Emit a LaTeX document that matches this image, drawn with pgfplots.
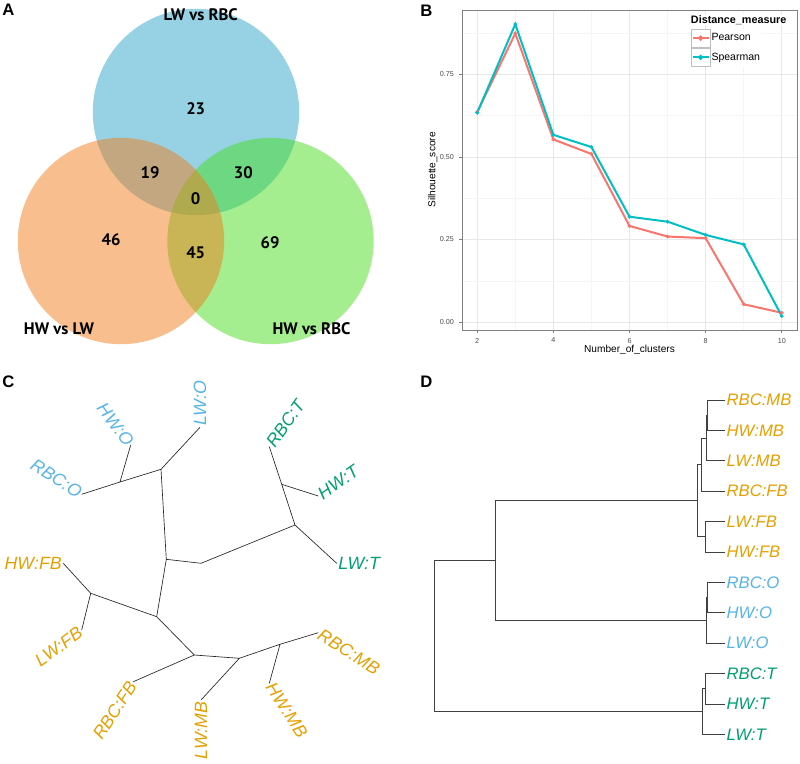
\documentclass[border=0pt]{standalone}
\usepackage{pgfplots}
\pgfplotsset{compat=1.18}
\usepackage{fontspec}
\setmainfont{Liberation Sans}
\newfontfamily\vennfont{PT Sans}
\definecolor{vblue}{HTML}{2DA5C9}
\definecolor{vorange}{HTML}{F17D1D}
\definecolor{vgreen}{HTML}{49DD21}
\definecolor{cO}{HTML}{56B4E9}
\definecolor{cT}{HTML}{009E73}
\definecolor{cF}{HTML}{E69F00}
\definecolor{pear}{HTML}{F8766D}
\definecolor{spear}{HTML}{00BFC4}
\newcommand{\vf}{\vennfont\bfseries\fontsize{12.5}{15}\selectfont}
\newcommand{\cf}{\itshape\fontsize{13.3}{16}\selectfont}
\newcommand{\df}{\itshape\fontsize{12.5}{15}\selectfont}
\newcommand{\pf}{\bfseries\fontsize{12.5}{15}\selectfont}
\pgfplotsset{canvas/.style={at={(0pt,0pt)}, anchor=south west, width=600pt, height=573pt,
  scale only axis, xmin=0, xmax=800, ymin=0, ymax=764, y dir=reverse,
  hide axis, clip=false, unbounded coords=jump}}
\begin{document}
\begin{tikzpicture}
\useasboundingbox (0,0) rectangle (600pt,573pt);
% ---------- Panel A: Venn circles (own axis, drawn first) ----------
\begin{axis}[canvas]
\addplot[only marks, mark=*, mark size=77.4pt, mark options={draw opacity=0, fill=vblue, fill opacity=0.5}] coordinates {(196,112)};
\addplot[only marks, mark=*, mark size=77.4pt, mark options={draw opacity=0, fill=vgreen, fill opacity=0.5}] coordinates {(270.5,241)};
\addplot[only marks, mark=*, mark size=77.4pt, mark options={draw opacity=0, fill=vorange, fill opacity=0.5}] coordinates {(121,241)};
\end{axis}
% ---------- canvas axis for texts of A, and panels C, D ----------
\begin{axis}[canvas]
% Panel letters
\node[anchor=base west, inner sep=0pt, font=\pf] at (axis cs:2,15) {A};
\node[anchor=base west, inner sep=0pt, font=\pf] at (axis cs:2,387) {C};
\node[anchor=base west, inner sep=0pt, font=\pf] at (axis cs:420,387) {D};
\node[font=\vf] at (axis cs:200.7,15) {LW vs RBC};
\node[font=\vf] at (axis cs:59,328.3) {HW vs LW};
\node[font=\vf] at (axis cs:311.5,328.3) {HW vs RBC};
\node[font=\vf] at (axis cs:195.7,108.3) {23};
\node[font=\vf] at (axis cs:150,172.3) {19};
\node[font=\vf] at (axis cs:243.3,172.3) {30};
\node[font=\vf] at (axis cs:195.7,198.3) {0};
\node[font=\vf] at (axis cs:111,240) {46};
\node[font=\vf] at (axis cs:195.7,252.7) {45};
\node[font=\vf] at (axis cs:270,242.7) {69};
% ---------- Panel C: unrooted tree ----------
\addplot[black!85, line width=0.5pt] coordinates {
 (81.7,494.3) (120,482) (130.7,445) (nan,nan)
 (120,482) (161,469.3) (200,427.3) (nan,nan)
 (161,469.3) (166.3,559.3) (201,563.3) (295,525) (336.7,563.3) (nan,nan)
 (295,525) (281.7,484.3) (269.3,446.7) (nan,nan)
 (281.7,484.3) (318.3,496) (nan,nan)
 (166.3,559.3) (156.7,616.7) (90.7,593.3) (63.3,563.3) (nan,nan)
 (90.7,593.3) (81.7,630) (nan,nan)
 (156.7,616.7) (194.3,655) (133.3,681.7) (nan,nan)
 (194.3,655) (239.3,658.3) (201,700) (nan,nan)
 (239.3,658.3) (280,644.3) (318.3,632.7) (nan,nan)
 (280,644.3) (269.3,683.3)
};
\node[font=\cf, text=cO, rotate=90, anchor=west, inner sep=1pt] at (axis cs:200,427.3) {LW:O};
\node[font=\cf, text=cO, rotate=-53, anchor=east, inner sep=1pt] at (axis cs:131,445) {HW:O};
\node[font=\cf, text=cO, rotate=-32, anchor=east, inner sep=1pt] at (axis cs:81.7,494.3) {RBC:O};
\node[font=\cf, text=cT, rotate=55, anchor=west, inner sep=1pt] at (axis cs:269.3,446.7) {RBC:T};
\node[font=\cf, text=cT, rotate=35, anchor=west, inner sep=1pt] at (axis cs:318.3,496) {HW:T};
\node[font=\cf, text=cT, rotate=0, anchor=west, inner sep=1pt] at (axis cs:336.7,563.3) {LW:T};
\node[font=\cf, text=cF, rotate=0, anchor=east, inner sep=1pt] at (axis cs:63.3,563.3) {HW:FB};
\node[font=\cf, text=cF, rotate=36, anchor=east, inner sep=1pt] at (axis cs:81.7,630) {LW:FB};
\node[font=\cf, text=cF, rotate=57, anchor=east, inner sep=1pt] at (axis cs:133.3,681.7) {RBC:FB};
\node[font=\cf, text=cF, rotate=90, anchor=east, inner sep=1pt] at (axis cs:201,700) {LW:MB};
\node[font=\cf, text=cF, rotate=-57, anchor=west, inner sep=1pt] at (axis cs:269.3,683.3) {HW:MB};
\node[font=\cf, text=cF, rotate=-32, anchor=west, inner sep=1pt] at (axis cs:318.3,632.7) {RBC:MB};
% ---------- Panel D: dendrogram ----------
\addplot[black!75, line width=0.6pt] coordinates {
 (725,400) (707,400) (707,430.4) (725,430.4) (nan,nan)
 (707,415.2) (706,415.2) (706,460.8) (725,460.8) (nan,nan)
 (706,438) (701.7,438) (701.7,491.2) (725,491.2) (nan,nan)
 (725,521.6) (705,521.6) (705,552) (725,552) (nan,nan)
 (701.7,464.6) (697.7,464.6) (697.7,536.8) (705,536.8) (nan,nan)
 (725,582.4) (707.3,582.4) (707.3,612.8) (725,612.8) (nan,nan)
 (707.3,597.6) (706,597.6) (706,643.2) (725,643.2) (nan,nan)
 (725,673.6) (705,673.6) (705,704) (725,704) (nan,nan)
 (705,688.8) (702.7,688.8) (702.7,734.4) (725,734.4) (nan,nan)
 (697.7,500.7) (495,500.7) (495,620.4) (706,620.4) (nan,nan)
 (495,560.55) (434.3,560.55) (434.3,711.6) (702.7,711.6)
};
\node[font=\df, text=cF, anchor=west, inner sep=1pt] at (axis cs:725,400) {RBC:MB};
\node[font=\df, text=cF, anchor=west, inner sep=1pt] at (axis cs:725,430.4) {HW:MB};
\node[font=\df, text=cF, anchor=west, inner sep=1pt] at (axis cs:725,460.8) {LW:MB};
\node[font=\df, text=cF, anchor=west, inner sep=1pt] at (axis cs:725,491.2) {RBC:FB};
\node[font=\df, text=cF, anchor=west, inner sep=1pt] at (axis cs:725,521.6) {LW:FB};
\node[font=\df, text=cF, anchor=west, inner sep=1pt] at (axis cs:725,552) {HW:FB};
\node[font=\df, text=cO, anchor=west, inner sep=1pt] at (axis cs:725,582.4) {RBC:O};
\node[font=\df, text=cO, anchor=west, inner sep=1pt] at (axis cs:725,612.8) {HW:O};
\node[font=\df, text=cO, anchor=west, inner sep=1pt] at (axis cs:725,643.2) {LW:O};
\node[font=\df, text=cT, anchor=west, inner sep=1pt] at (axis cs:725,673.6) {RBC:T};
\node[font=\df, text=cT, anchor=west, inner sep=1pt] at (axis cs:725,704) {HW:T};
\node[font=\df, text=cT, anchor=west, inner sep=1pt] at (axis cs:725,734.4) {LW:T};
\end{axis}
\node[anchor=base west, inner sep=0pt, font=\pf] at (315pt,560.25pt) {B};
% ---------- Panel B: silhouette ----------
\begin{axis}[at={(346.5pt,325.5pt)}, anchor=south west, width=251.25pt, height=240pt,
  scale only axis, xmin=1.6, xmax=10.4, ymin=-0.024, ymax=0.945,
  xtick={2,4,6,8,10}, xticklabels={2,4,6,8,10},
  ytick={0,0.25,0.5,0.75}, yticklabels={0.00,0.25,0.50,0.75},
  minor xtick={3,5,7,9}, minor ytick={0.125,0.375,0.625,0.875},
  grid=both, major grid style={color=black!9, line width=0.5pt},
  minor grid style={color=black!4, line width=0.4pt},
  axis line style={black!50, line width=0.5pt},
  tick pos=left, tick align=outside, major tick length=2.5pt, minor tick length=0pt,
  major tick style={black!50, line width=0.5pt},
  /pgf/number format/assume math mode=true,
  ticklabel style={font=\fontsize{5.4}{6}\selectfont, text=black!70},
  xlabel={Number\_of\_clusters}, ylabel={Silhouette\_score},
  label style={font=\fontsize{7.6}{9}\selectfont},
  xlabel style={yshift=5pt}, ylabel style={yshift=-5pt},
  legend style={at={(rel axis cs:0.6827,0.9428)}, anchor=north west, draw=none,
     fill=white, font=\fontsize{7.9}{9}\selectfont, inner sep=0pt, row sep=0pt,
     nodes={inner sep=1pt}},
  legend cell align=left,
  legend image code/.code={
     \draw[black!25, fill=white, line width=0.4pt] (0pt,-7pt) rectangle (14pt,7pt);
     \draw[#1] (1pt,0pt) -- (13pt,0pt);
     \fill[#1] (7pt,0pt) circle (1.1pt);
  }]
\addplot[pear, line width=1.5pt, mark=*, mark size=0.5pt] coordinates {
 (2,0.636) (3,0.874) (4,0.553) (5,0.509) (6,0.291) (7,0.259) (8,0.254) (9,0.054) (10,0.028)};
\addlegendentry{Pearson}
\addplot[spear, line width=1.5pt, mark=*, mark size=0.5pt] coordinates {
 (2,0.634) (3,0.902) (4,0.567) (5,0.530) (6,0.319) (7,0.304) (8,0.264) (9,0.235) (10,0.018)};
\addlegendentry{Spearman}
\node[anchor=west, inner sep=0pt, fill=white, font=\bfseries\fontsize{8.1}{9}\selectfont] at (rel axis cs:0.6827,0.9688) {Distance\_measure};
\end{axis}
\end{tikzpicture}
\end{document}
